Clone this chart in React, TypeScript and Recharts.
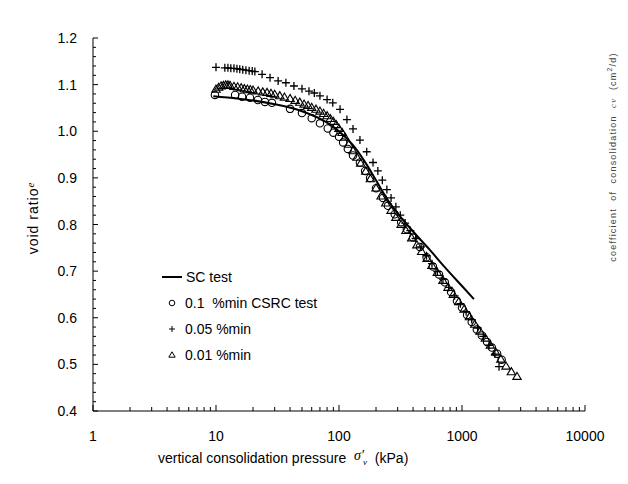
import React from 'react';
import { ComposedChart, Scatter, Line, XAxis, YAxis, Legend } from 'recharts';

// SC test (continuous curve)
const scP = [9.5, 15, 20, 30, 50, 70, 100, 130, 160, 200, 250, 300, 400, 550, 700, 1000, 1250];
const scE = [1.075, 1.07, 1.066, 1.058, 1.043, 1.027, 1.0, 0.97, 0.937, 0.895, 0.852, 0.824, 0.785, 0.745, 0.713, 0.668, 0.64];

// 0.1 %/min CSRC test (circles)
const c01P = [9.8, 14.3, 16.3, 18.9, 21.9, 25, 28.5, 40, 50, 60, 70, 81, 90, 100, 108, 118, 130, 148, 163, 179, 200, 228,
  250, 284, 320, 356, 400, 455, 515, 580, 650, 725, 815, 910, 1000, 1100, 1200, 1320, 1450, 1600, 1750, 1930, 2100];
const c01E = [1.078, 1.078, 1.074, 1.072, 1.067, 1.063, 1.061, 1.048, 1.039, 1.028, 1.017, 1.006, 0.997, 0.988, 0.976, 0.962,
  0.948, 0.933, 0.915, 0.9, 0.878, 0.857, 0.84, 0.822, 0.805, 0.79, 0.772, 0.752, 0.73, 0.71, 0.693, 0.676, 0.655, 0.636,
  0.622, 0.606, 0.591, 0.575, 0.562, 0.548, 0.536, 0.523, 0.51];

// 0.05 %/min (plus)
const c005P = [10, 11.8, 12.5, 13.2, 14, 14.8, 15.6, 16.5, 17.5, 18.6, 19.7, 20.7, 23.7, 27.5, 32, 37, 43, 50, 57, 63, 70, 80,
  89, 102, 116, 130, 148, 168, 189, 207, 225, 245, 265, 290, 315, 345, 380, 420, 465, 515, 570, 630, 700, 780, 870, 970, 1080,
  1200, 1340, 1490, 1660, 1850, 2000];
const c005E = [1.137, 1.136, 1.136, 1.135, 1.135, 1.134, 1.133, 1.132, 1.131, 1.13, 1.129, 1.128, 1.122, 1.115, 1.108, 1.104,
  1.097, 1.091, 1.086, 1.082, 1.076, 1.068, 1.061, 1.047, 1.025, 1.005, 0.981, 0.956, 0.933, 0.915, 0.895, 0.875, 0.857, 0.838,
  0.82, 0.803, 0.787, 0.77, 0.752, 0.733, 0.716, 0.699, 0.683, 0.665, 0.647, 0.63, 0.613, 0.596, 0.578, 0.56, 0.541, 0.522, 0.495];

// 0.01 %/min (triangles)
const c001P = [10, 10.5, 11, 11.5, 12, 12.5, 13, 14, 15, 16, 17, 18, 19, 20, 22, 24, 26, 28, 30, 33, 36, 40, 44, 48, 52, 56, 60,
  65, 70, 75, 80, 85, 90, 95, 100, 106, 112, 120, 130, 140, 150, 165, 180, 200, 220, 240, 265, 290, 320, 350, 390, 430, 470, 520,
  570, 630, 700, 770, 850, 940, 1040, 1150, 1270, 1400, 1550, 1700, 1880, 2070, 2280, 2520, 2800];
const c001E = [1.09, 1.094, 1.097, 1.098, 1.099, 1.099, 1.098, 1.096, 1.095, 1.093, 1.091, 1.09, 1.089, 1.088, 1.086, 1.084,
  1.083, 1.081, 1.079, 1.076, 1.073, 1.07, 1.066, 1.062, 1.058, 1.055, 1.051, 1.047, 1.043, 1.038, 1.033, 1.027, 1.021, 1.014,
  1.006, 0.997, 0.987, 0.972, 0.958, 0.944, 0.931, 0.914, 0.898, 0.878, 0.861, 0.846, 0.83, 0.815, 0.8, 0.787, 0.771, 0.756,
  0.742, 0.727, 0.712, 0.697, 0.68, 0.665, 0.65, 0.634, 0.618, 0.602, 0.586, 0.571, 0.556, 0.541, 0.526, 0.511, 0.496, 0.484, 0.474];

const xTicks = [1, 2, 3, 4, 5, 6, 7, 8, 9, 10, 20, 30, 40, 50, 60, 70, 80, 90, 100, 200, 300, 400, 500, 600, 700, 800, 900,
  1000, 2000, 3000, 4000, 5000, 6000, 7000, 8000, 9000, 10000];
const xLabels = [1, 10, 100, 1000, 10000];
const yTicks = [0.4, 0.42, 0.44, 0.46, 0.48, 0.5, 0.52, 0.54, 0.56, 0.58, 0.6, 0.62, 0.64, 0.66, 0.68, 0.7, 0.72, 0.74, 0.76,
  0.78, 0.8, 0.82, 0.84, 0.86, 0.88, 0.9, 0.92, 0.94, 0.96, 0.98, 1.0, 1.02, 1.04, 1.06, 1.08, 1.1, 1.12, 1.14, 1.16, 1.18, 1.2];
const yLabels = [0.4, 0.5, 0.6, 0.7, 0.8, 0.9, 1.0, 1.1, 1.2];

const zip = (ps: number[], es: number[]) => ps.map((p, i) => ({ p, e: es[i] }));
const scData = zip(scP, scE);
const d01 = zip(c01P, c01E);
const d005 = zip(c005P, c005E);
const d001 = zip(c001P, c001E);

const FONT = '"Liberation Sans", Arial, sans-serif';
const SERIF = '"Liberation Serif", serif';

const Circle = ({ cx, cy }: any) => <circle cx={cx} cy={cy} r={3.7} fill="none" stroke="#000" strokeWidth={1.1} />;
const Plus = ({ cx, cy }: any) => (
  <path d={`M${cx - 4},${cy}H${cx + 4}M${cx},${cy - 4}V${cy + 4}`} stroke="#000" strokeWidth={1.3} />
);
const Tri = ({ cx, cy }: any) => (
  <path d={`M${cx},${cy - 4.2}L${cx - 4.2},${cy + 2.9}L${cx + 4.2},${cy + 2.9}Z`} fill="none" stroke="#000" strokeWidth={1.1} />
);

const XTick = ({ x, y, payload }: any) => {
  const major = xLabels.includes(payload.value);
  return (
    <g>
      <line x1={x} x2={x} y1={y} y2={y - (major ? 6 : 4)} stroke="#000" />
      {major && (
        <text x={x} y={y + 30} textAnchor="middle" fontFamily={FONT} fontSize={14} fill="#000">{payload.value}</text>
      )}
    </g>
  );
};

const YTick = ({ x, y, payload }: any) => {
  const v = payload.value;
  const major = yLabels.some((l) => Math.abs(l - v) < 1e-6);
  return (
    <g>
      <line x1={x} x2={x + (major ? 5 : 3)} y1={y} y2={y} stroke="#000" />
      {major && (
        <text x={x - 16} y={y + 5} textAnchor="end" fontFamily={FONT} fontSize={14} fill="#000">{v.toFixed(1)}</text>
      )}
    </g>
  );
};

const legendItems = [
  { name: 'SC test', kind: 'line' },
  { name: '0.1  %min CSRC test', kind: 'circle' },
  { name: '0.05 %min', kind: 'plus' },
  { name: '0.01 %min', kind: 'tri' },
];

const LegendBox = () => (
  <svg width={260} height={100} style={{ overflow: 'visible' }}>
    {legendItems.map((it, i) => {
      const cy = 9 + i * 26;
      const mx = 12;
      return (
        <g key={it.name}>
          {it.kind === 'line' && <line x1={2} x2={22} y1={cy} y2={cy} stroke="#000" strokeWidth={2} />}
          {it.kind === 'circle' && <circle cx={mx} cy={cy} r={2.8} fill="none" stroke="#000" />}
          {it.kind === 'plus' && <path d={`M${mx - 3},${cy}H${mx + 3}M${mx},${cy - 3}V${cy + 3}`} stroke="#000" />}
          {it.kind === 'tri' && <path d={`M${mx},${cy - 3.2}L${mx - 3.2},${cy + 2.2}L${mx + 3.2},${cy + 2.2}Z`} fill="none" stroke="#000" />}
          <text x={it.kind === 'line' ? 26 : 25} y={cy + 5} fontFamily={FONT} fontSize={14} fill="#000" style={{ whiteSpace: 'pre' }}>{it.name}</text>
        </g>
      );
    })}
  </svg>
);

export default function App() {
  return (
    <div style={{ position: 'absolute', left: 0, top: 0, width: 628, height: 484, background: '#fff' }}>
      <ComposedChart width={628} height={484} margin={{ top: 38, right: 43, bottom: 43, left: 33 }}>
        <XAxis dataKey="p" type="number" scale="log" domain={[1, 10000]} allowDataOverflow ticks={xTicks} interval={0}
          tick={<XTick />} tickSize={0} tickMargin={0} height={30} axisLine={{ stroke: '#000' }} tickLine={false} />
        <YAxis dataKey="e" type="number" domain={[0.4, 1.2]} allowDataOverflow ticks={yTicks} interval={0}
          tick={<YTick />} tickSize={0} tickMargin={0} width={60} axisLine={{ stroke: '#000' }} tickLine={false} />
        <Line data={scData} dataKey="e" name="SC test" type="monotone" stroke="#000" strokeWidth={2} dot={false} isAnimationActive={false} />
        <Scatter data={d01} name="0.1 %min CSRC test" shape={<Circle />} isAnimationActive={false} />
        <Scatter data={d005} name="0.05 %min" shape={<Plus />} isAnimationActive={false} />
        <Scatter data={d001} name="0.01 %min" shape={<Tri />} isAnimationActive={false} />
        <Legend layout="vertical" align="center" verticalAlign="middle" content={() => <LegendBox />}
          wrapperStyle={{ position: 'absolute', left: 160, top: 268, width: 260, height: 100 }} />
      </ComposedChart>
      <svg width={628} height={484} style={{ position: 'absolute', left: 0, top: 0, pointerEvents: 'none' }}>
        <text transform="translate(38,218) rotate(-90)" textAnchor="middle" fontFamily={FONT} fontSize={14} letterSpacing={1} fill="#000">
          void ratio<tspan fontFamily={SERIF} fontStyle="italic" fontSize={11} dy={-4}>e</tspan>
        </text>
        <text x={158} y={463} fontFamily={FONT} fontSize={14} fill="#000" style={{ whiteSpace: 'pre' }}>
          {'vertical consolidation pressure  '}
          <tspan fontFamily={SERIF} fontStyle="italic" dy={-3}>σ′</tspan>
          <tspan fontFamily={SERIF} fontStyle="italic" fontSize={9} dx={-1} dy={5}>v</tspan>
          <tspan dy={-2}>{'  (kPa)'}</tspan>
        </text>
        <text transform="translate(616,157) rotate(-90)" textAnchor="middle" fontFamily={FONT} fontSize={9} letterSpacing={1.2} fill="#444" style={{ whiteSpace: 'pre' }}>
          {'coefficient  of  consolidation  '}
          <tspan fontFamily={SERIF} fontStyle="italic">cv</tspan>
          {'  (cm'}<tspan fontSize={7} dy={-4}>2</tspan><tspan dy={4}>/d)</tspan>
        </text>
      </svg>
    </div>
  );
}
